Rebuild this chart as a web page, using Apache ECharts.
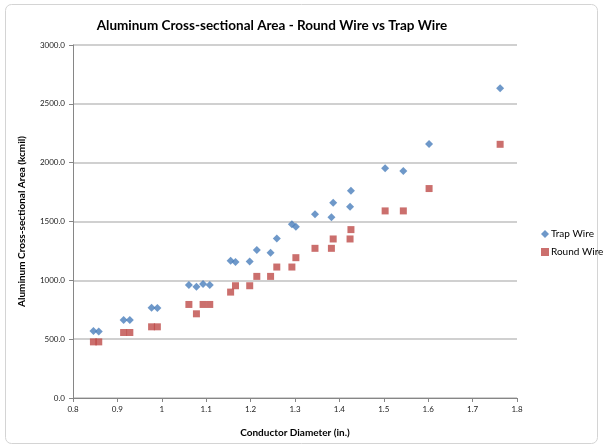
<!DOCTYPE html>
<html>
<head>
<meta charset="utf-8">
<script src="https://cdn.jsdelivr.net/npm/echarts@6/dist/echarts.min.js"></script>
<style>
  html, body { margin: 0; padding: 0; background: #fff; }
  #chart { width: 603px; height: 448px; }
</style>
</head>
<body>
<div id="chart"></div>
<script>
// Conductor diameters (in.) shared by both constructions
const diameters = [0.846, 0.858, 0.914, 0.928, 0.977, 0.990, 1.061, 1.078, 1.093, 1.108,
  1.155, 1.166, 1.198, 1.214, 1.245, 1.259, 1.293, 1.302, 1.345, 1.382, 1.386, 1.424,
  1.426, 1.503, 1.544, 1.602, 1.762];

// Aluminum area of trapezoidal-strand wire (kcmil)
const trapArea = [570, 565, 663, 663, 768, 765, 960, 946, 969, 960,
  1167, 1156, 1159, 1258, 1235, 1355, 1476, 1456, 1561, 1536, 1660, 1626,
  1762, 1952, 1929, 2159, 2632];

// Aluminum area of round-strand wire (kcmil)
const roundArea = [477, 477, 556.5, 556.5, 605, 605, 795, 715.5, 795, 795,
  900, 954, 954, 1033.5, 1033.5, 1113, 1113, 1192.5, 1272, 1272, 1351.5, 1351.5,
  1431, 1590, 1590, 1780, 2156];

const seriesNames = ['Trap Wire', 'Round Wire'];
const xTicks = [0.8, 0.9, 1, 1.1, 1.2, 1.3, 1.4, 1.5, 1.6, 1.7, 1.8];
const yTicks = [0, 500, 1000, 1500, 2000, 2500, 3000];

const pair = (xs, ys) => xs.map((x, i) => [x, ys[i]]);
const FONT = 'Lato';

const chart = echarts.init(document.getElementById('chart'), null, { renderer: 'canvas' });
chart.setOption({
  backgroundColor: '#fff',
  animation: false,
  textStyle: { fontFamily: FONT },
  title: {
    text: 'Aluminum Cross-sectional Area - Round Wire vs Trap Wire',
    left: 267, top: 14, textAlign: 'center',
    textStyle: { fontFamily: FONT, fontSize: 13.5, fontWeight: 'bold', color: '#000' }
  },
  graphic: [{
    type: 'rect', silent: true, z: -1,
    shape: { x: 5.5, y: 4.5, width: 592, height: 439, r: 6 },
    style: { fill: 'none', stroke: '#d4d4d4', lineWidth: 1 }
  }],
  legend: {
    orient: 'vertical', left: 536, top: 224,
    itemWidth: 8, itemHeight: 8, itemGap: 8,
    data: seriesNames,
    textStyle: { fontFamily: FONT, fontSize: 10, color: '#000', padding: [0, 0, 0, -3] }
  },
  grid: { left: 73, top: 45, width: 444, height: 353, containLabel: false },
  xAxis: {
    type: 'value', min: xTicks[0], max: xTicks[xTicks.length - 1], interval: 0.1,
    name: 'Conductor Diameter (in.)', nameLocation: 'middle', nameGap: 30,
    nameTextStyle: { fontFamily: FONT, fontSize: 10, fontWeight: 'bold', color: '#000' },
    axisLine: { show: true, lineStyle: { color: '#868686', width: 1 } },
    axisTick: { show: true, inside: false, length: 4, lineStyle: { color: '#868686' } },
    axisLabel: {
      fontFamily: FONT, fontSize: 8, color: '#222', margin: 7,
      formatter: v => String(parseFloat(v.toFixed(1)))
    },
    splitLine: { show: false }
  },
  yAxis: {
    type: 'value', min: yTicks[0], max: yTicks[yTicks.length - 1], interval: 500,
    name: 'Aluminum Cross-sectional Area (kcmil)', nameLocation: 'middle', nameGap: 46,
    nameRotate: 90,
    nameTextStyle: { fontFamily: FONT, fontSize: 10, fontWeight: 'bold', color: '#000' },
    axisLine: { show: true, lineStyle: { color: '#868686', width: 1 } },
    axisTick: { show: true, inside: false, length: 4, lineStyle: { color: '#868686' } },
    axisLabel: {
      fontFamily: FONT, fontSize: 8, color: '#222', margin: 8,
      formatter: v => v.toFixed(1)
    },
    splitLine: { show: true, lineStyle: { color: '#d0d0d0', width: 2 } }
  },
  series: [
    {
      name: seriesNames[0], type: 'scatter', symbol: 'diamond', symbolSize: [8, 8],
      itemStyle: { color: '#4a7ebb' },
      data: pair(diameters, trapArea)
    },
    {
      name: seriesNames[1], type: 'scatter', symbol: 'rect', symbolSize: 7,
      itemStyle: { color: '#be4b48' },
      data: pair(diameters, roundArea)
    }
  ]
});
</script>
</body>
</html>
